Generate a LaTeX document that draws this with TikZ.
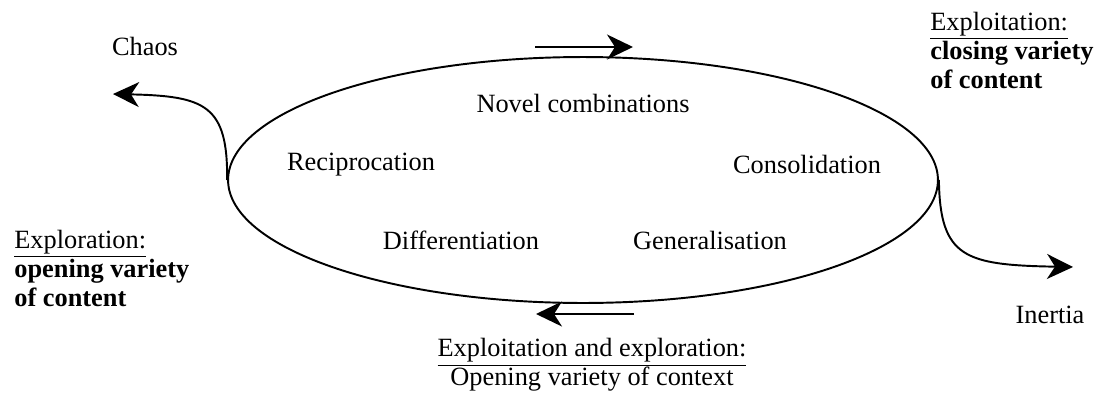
\documentclass[tikz,border=0pt]{standalone}
\usepackage{fontspec}
\setmainfont{Liberation Serif}
\usetikzlibrary{shapes.geometric, arrows.meta}

\begin{document}
\begin{tikzpicture}[x=0.02cm, y=-0.02cm, font=\fontsize{15}{16.5}\selectfont,
  flow/.style={line width=1.1pt, -{Stealth[length=0.52cm, width=0.5cm, inset=0.16cm]}},
  label/.style={inner sep=0pt}]
\useasboundingbox (0,0) rectangle (1101,396);

\node[draw, ellipse, line width=1.1pt, minimum width=14.2cm, minimum height=4.92cm, inner sep=0pt] (cycle) at (583,180) {};

\node[label] (chaos) at (145,46) {Chaos};
\node[label] (novel) at (583,103) {Novel combinations};
\node[label] (recip) at (361,165) {Reciprocation};
\node[label] (consol) at (807,164) {Consolidation};
\node[label] (diff) at (461,240) {Differentiation};
\node[label] (gen) at (710,240) {Generalisation};
\node[label] (inertia) at (1050,315) {Inertia};

\node[label, align=left, anchor=west] (exploit) at (930,50) {\underline{Exploitation:}\\\textbf{closing variety}\\\textbf{of content}};
\node[label, align=left, anchor=west] (explore) at (14,268) {\underline{Exploration:}\\\textbf{opening variety}\\\textbf{of content}};
\node[label, align=center] (both) at (592,365) {\underline{Exploitation and exploration:}\\Opening variety of context};

\coordinate (chaosend) at (113,94);
\coordinate (inertiaend) at (1073,267);
\coordinate (topa) at (535,47);
\coordinate (topb) at (633,47);
\coordinate (bota) at (634,314);
\coordinate (botb) at (536,314);

\draw[flow] (cycle.west) .. controls (228,105) and (205,96) .. (chaosend);
\draw[flow] (cycle.east) .. controls (940,258) and (965,265) .. (inertiaend);
\draw[flow] (topa) -- (topb);
\draw[flow] (bota) -- (botb);

\end{tikzpicture}
\end{document}
